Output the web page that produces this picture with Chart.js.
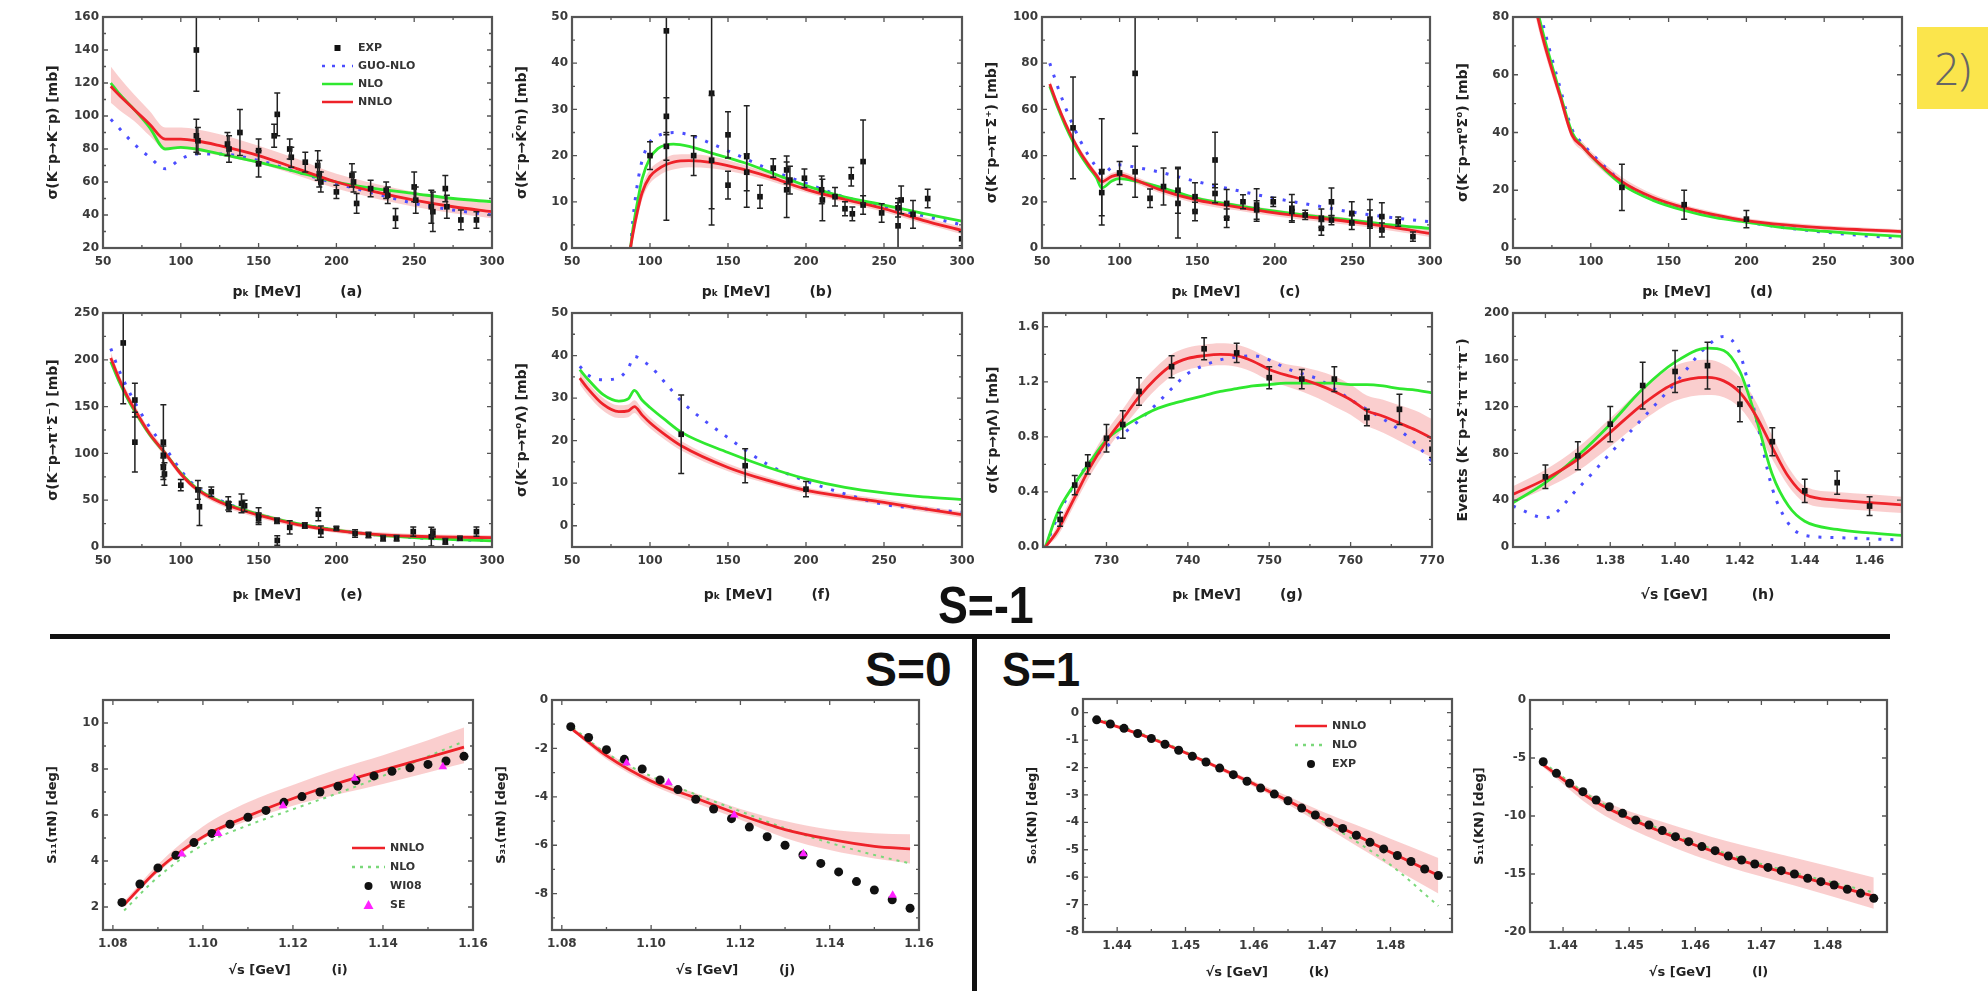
<!DOCTYPE html>
<html>
<head>
<meta charset="utf-8">
<script src="https://cdn.jsdelivr.net/npm/chart.js@4.4.1/dist/chart.umd.min.js"></script>
<style>
  body { margin: 0; background: #fff; width: 1988px; height: 991px; position: relative; overflow: hidden; }
  canvas { position: absolute; }
  .big { position: absolute; font-family: 'Liberation Sans', Arial, sans-serif; font-weight: bold; line-height: 1; color: #111; transform-origin: left top; white-space: nowrap; }
  .rule { position: absolute; background: #111; }
  #tag { position: absolute; left: 1917px; top: 27px; width: 71px; height: 82px; background: #fbe54c; color: #666; font-family: 'Open Sans', sans-serif; font-weight: 300; font-size: 44px; line-height: 82px; text-align: center; }
</style>
</head>
<body>

<div class="rule" style="left:50px; top:634px; width:1840px; height:5px;"></div>
<div class="rule" style="left:972px; top:636px; width:5px; height:355px;"></div>
<div class="big" style="left:938px; top:579px; font-size:52px; transform:scaleX(0.86);">S=-1</div>
<div class="big" style="left:865px; top:646px; font-size:48px;">S=0</div>
<div class="big" style="left:1002px; top:646px; font-size:48px; transform:scaleX(0.9);">S=1</div>
<div id="tag">2)</div>

<script>
'use strict';

// ---------- (a) K-p -> K-p ----------
const aCurveX = [55, 60, 70, 80, 90, 100, 110, 125, 150, 175, 200, 225, 250, 275, 300];
const aNNLO   = [118, 113, 104, 95, 86, 86, 85, 82, 76, 68, 60, 54, 49, 45, 42];
const aNLO    = [120, 114, 104, 93, 80, 81, 80, 77, 72, 66, 60, 56, 53, 50, 48];
const aGUO    = [98, 93, 83, 75, 68, 74, 77, 77, 73, 66, 59, 53, 47, 43, 40];
const aBandLo = [108, 104, 97, 88, 80, 80, 79, 76, 71, 64, 56, 50, 45, 41, 38];
const aBandHi = [130, 124, 113, 103, 93, 93, 92, 89, 82, 74, 65, 59, 54, 50, 47];
const aExpX   = [110, 110, 111, 130, 131, 138, 150, 150, 160, 162, 170, 171, 180, 188, 189, 190, 200, 210, 211, 213, 222, 232, 233, 238, 250, 251, 261, 262, 270, 271, 280, 290];
const aExpY   = [140, 88, 85, 83, 80, 90, 79, 71, 88, 101, 80, 75, 72, 70, 65, 60, 54, 64, 60, 47, 56, 55, 52, 38, 57, 49, 45, 42, 56, 45, 37, 37];
const aExpErr = [25, 10, 8, 7, 8, 14, 7, 8, 7, 13, 6, 6, 6, 9, 8, 6, 4, 7, 6, 6, 5, 5, 5, 6, 9, 8, 10, 12, 8, 7, 6, 5];

// ---------- (b) K-p -> K0bar n ----------
const bCurveX = [87.5, 89, 92, 95, 100, 105, 110, 115, 125, 140, 160, 180, 200, 225, 250, 275, 300];
const bNNLO   = [0, 3, 8, 12, 15.5, 17, 18, 18.6, 18.9, 18.5, 17, 15, 12.7, 10.5, 8.5, 6, 3.8];
const bNLO    = [0, 4, 10, 15, 19.5, 21.5, 22.3, 22.5, 22, 20.5, 18.5, 16, 13.5, 11, 9.3, 7.5, 5.8];
const bGUO    = [0, 6, 14, 19, 23, 24.3, 24.8, 25, 24.5, 22.5, 19.5, 16.5, 14, 11, 9, 7, 5];
const bBandLo = [0, 2, 6.5, 10.5, 14, 15.5, 16.5, 17, 17.5, 17.2, 16, 14.2, 12, 9.8, 7.8, 5.3, 3];
const bBandHi = [0, 4, 9.5, 13.5, 17, 18.5, 19.5, 20.2, 20.3, 19.8, 18, 15.8, 13.4, 11.2, 9.2, 6.7, 4.6];
const bExpX   = [100, 110.5, 110.5, 110.5, 128, 139.5, 139.5, 150, 150, 162, 162, 170.5, 179, 187.6, 187.6, 189.7, 199, 210, 210.5, 218.6, 225, 229.7, 229, 236.6, 236.6, 248.5, 259, 259, 261, 268.6, 278, 299.8];
const bExpY   = [20, 47, 28.5, 22, 20, 33.5, 19, 24.5, 13.6, 19.8, 16.4, 11.1, 17.3, 16.9, 12.6, 14.7, 15.1, 12.6, 10.4, 11.1, 8.5, 7.4, 15.4, 18.7, 9.3, 7.6, 8.7, 4.8, 10.4, 7.3, 10.7, 2];
const bExpErr = [3, 41, 4, 3, 4.3, 25, 14, 5, 3, 11, 4, 2.5, 2, 3, 6, 3, 2, 3, 4.5, 2, 1.5, 1.5, 2, 9, 2, 2, 2, 5, 3, 3, 2, 1.5];

// ---------- (c) K-p -> pi- Sigma+ ----------
const cCurveX = [55, 60, 65, 70, 75, 80, 85, 88.5, 95, 100, 110, 125, 150, 175, 200, 225, 250, 275, 300];
const cNNLO   = [71, 62, 54, 47, 41, 36, 31.5, 28.7, 31, 31.6, 29.5, 25.5, 20.7, 17.8, 15.2, 13.2, 11.3, 9, 6.3];
const cNLO    = [70, 61, 53, 46, 40, 35, 30.5, 26, 29, 30, 29, 26.6, 21.5, 18.5, 16, 13.8, 12, 10, 8.5];
const cGUO    = [80, 70, 61, 53, 46, 40, 35, 31.6, 35, 36, 35, 33, 28.7, 25, 21.5, 18.5, 15.5, 13.2, 11.4];
const cBandLo = [69.5, 60.5, 52.5, 45.5, 39.5, 34.5, 30, 27.2, 29.5, 30.1, 28, 24, 19.2, 16.3, 13.7, 11.7, 9.8, 7.5, 4.8];
const cBandHi = [72.5, 63.5, 55.5, 48.5, 42.5, 37.5, 33, 30.2, 32.5, 33.1, 31, 27, 22.2, 19.3, 16.7, 14.7, 12.8, 10.5, 7.8];
const cExpX   = [70, 88.5, 88.5, 100, 110, 110, 119.6, 128.3, 137.6, 137.6, 148.6, 148.6, 161.5, 161.5, 169, 169, 179.5, 188.3, 188.3, 199, 211, 211, 219.6, 230, 230, 236.5, 236.5, 249.6, 249.6, 261.3, 261.3, 269, 269, 279.5, 289];
const cExpY   = [52, 33, 24, 32.5, 75.6, 33, 21.5, 26.6, 25, 19.3, 22.2, 15.8, 38.1, 23.6, 19.3, 12.9, 20, 18.6, 16.5, 20, 17.2, 15.8, 14.3, 12.9, 8.5, 20, 12.1, 15, 11, 10, 12.5, 13.6, 7.8, 11.4, 4.9];
const cExpErr = [22, 23, 10, 5, 26, 11, 4, 8, 10, 15, 6, 4, 12, 4, 6, 4, 3, 7, 4, 2, 6, 4, 2, 4, 3, 6, 2, 5, 3, 11, 4, 6, 3, 2, 2];

// ---------- (d) K-p -> pi0 Sigma0 ----------
const dCurveX = [55, 60, 65, 70, 80, 88, 95, 100, 120, 140, 160, 180, 200, 225, 250, 275, 300];
const dNNLO   = [110, 95, 82, 71, 53, 39, 35, 32, 23, 17.5, 14, 11.5, 9.5, 8, 7, 6.3, 5.7];
const dNLO    = [112, 97, 84, 73, 54, 40, 35, 32, 22, 16.5, 13, 10.5, 9, 7, 5.8, 4.8, 4];
const dGUO    = [118, 102, 88, 76, 56, 41, 36, 33, 23, 17, 13.5, 11, 9, 7, 5.5, 4.3, 3.5];
const dBandLo = [106, 92, 79, 68.5, 51, 37.5, 33.5, 30.5, 21.5, 16.3, 13, 10.6, 8.7, 7.2, 6.2, 5.5, 4.9];
const dBandHi = [114, 98, 85, 73.5, 55, 40.5, 36.5, 33.5, 24.5, 18.7, 15, 12.4, 10.3, 8.8, 7.8, 7.1, 6.5];
const dExpX   = [120, 160, 200];
const dExpY   = [21, 15, 10];
const dExpErr = [8, 5, 3];

// ---------- (e) K-p -> pi+ Sigma- ----------
const eCurveX = [55, 60, 65, 70, 80, 90, 100, 110, 125, 150, 175, 200, 225, 250, 275, 300];
const eNNLO   = [202, 181, 163, 148, 121, 100, 78, 62, 48, 34, 24, 17.5, 13.5, 11.5, 10.5, 10];
const eNLO    = [198, 178, 161, 146, 120, 100, 79, 63, 49, 35, 25, 18, 13, 10, 8, 6.5];
const eGUO    = [212, 190, 172, 156, 128, 106, 82, 64, 50, 35, 25, 18, 13, 10, 8, 6.5];
const eBandLo = [196, 176, 158, 143, 117, 96, 75, 59, 45, 31, 21.5, 15, 11, 9, 8, 7.5];
const eBandHi = [208, 186, 168, 153, 125, 104, 81, 65, 51, 37, 26.5, 20, 16, 14, 13, 12.5];
const eExpX   = [63, 70.5, 70.5, 88.8, 88.8, 88.8, 89.5, 100, 111, 112, 119.6, 130.5, 131, 139, 141, 150, 150, 161.8, 162, 170, 179.7, 188.4, 190, 200, 212, 220.6, 230, 238.7, 249.4, 261, 262, 270, 279.4, 290];
const eExpY   = [218, 157, 112, 112, 98, 85, 78, 66, 61, 43, 59, 46.6, 43, 46.6, 44, 34, 30, 28, 7, 21, 23, 35, 16.4, 19.8, 14.5, 12.8, 9.3, 9.3, 16.4, 11, 15, 6, 9.3, 16.4];
const eExpErr = [65, 18, 32, 40, 10, 10, 12, 6, 10, 20, 5, 7, 5, 10, 6, 8, 6, 3, 5, 7, 3, 7, 6, 2, 4, 3, 3, 3, 5, 10, 4, 3, 2, 5];

// ---------- (f) K-p -> pi0 Lambda ----------
const fCurveX = [55, 60, 70, 80, 86, 90, 95, 100, 110, 120, 150, 175, 200, 225, 250, 275, 300];
const fNNLO   = [34.7, 32.3, 28.5, 26.8, 27, 28, 26, 24.2, 21.3, 18.8, 13.7, 10.7, 8.3, 6.8, 5.5, 4, 2.6];
const fNLO    = [36.7, 34.5, 30.8, 29.3, 29.8, 31.8, 29.5, 27.8, 24.8, 22, 17.2, 13.8, 11, 9, 7.7, 6.8, 6.2];
const fGUO    = [37.5, 35.5, 34.3, 34.8, 37, 39.8, 38.8, 37.5, 33.5, 29.3, 20.7, 14.5, 10.5, 7.5, 5, 4, 3.2];
const fBandLo = [33.2, 30.8, 27, 25.3, 25.5, 26.5, 24.6, 22.9, 20.1, 17.7, 12.8, 9.9, 7.6, 6.1, 4.8, 3.3, 1.9];
const fBandHi = [36.2, 33.8, 30, 28.3, 28.5, 29.5, 27.4, 25.5, 22.5, 19.9, 14.6, 11.5, 9, 7.5, 6.2, 4.7, 3.3];
const fExpX   = [120, 161, 200];
const fExpY   = [21.5, 14.1, 8.6];
const fExpErr = [9.2, 4, 1.8];

// ---------- (g) K-p -> eta Lambda ----------
const gCurveX = [722.5, 724, 726, 728, 730, 732, 734, 736, 738, 740, 742, 744, 746, 748, 750, 752, 754, 756, 758, 760, 762, 764, 766, 768, 770];
const gNNLO   = [0, 0.12, 0.35, 0.58, 0.77, 0.93, 1.09, 1.22, 1.32, 1.37, 1.39, 1.40, 1.39, 1.35, 1.29, 1.25, 1.22, 1.18, 1.13, 1.07, 0.99, 0.95, 0.9, 0.85, 0.79];
const gNLO    = [0, 0.25, 0.45, 0.62, 0.78, 0.87, 0.94, 1.0, 1.04, 1.07, 1.10, 1.13, 1.15, 1.17, 1.18, 1.19, 1.19, 1.19, 1.19, 1.18, 1.18, 1.17, 1.15, 1.14, 1.12];
const gGUO    = [0, 0.22, 0.45, 0.62, 0.73, 0.82, 0.92, 1.03, 1.15, 1.26, 1.32, 1.36, 1.38, 1.39, 1.36, 1.30, 1.26, 1.22, 1.15, 1.07, 1.0, 0.93, 0.85, 0.75, 0.62];
const gBandLo = [0, 0.08, 0.3, 0.52, 0.7, 0.86, 1.01, 1.14, 1.24, 1.29, 1.31, 1.32, 1.31, 1.27, 1.21, 1.17, 1.13, 1.08, 1.02, 0.96, 0.88, 0.83, 0.77, 0.71, 0.65];
const gBandHi = [0, 0.16, 0.4, 0.64, 0.84, 1.0, 1.17, 1.3, 1.4, 1.45, 1.47, 1.48, 1.47, 1.43, 1.37, 1.33, 1.31, 1.28, 1.24, 1.18, 1.1, 1.07, 1.03, 0.99, 0.93];
const gExpX   = [724.3, 726.1, 727.7, 730, 732, 734, 738, 742, 746, 750, 754, 758, 762, 766, 770];
const gExpY   = [0.2, 0.45, 0.6, 0.79, 0.89, 1.13, 1.31, 1.44, 1.41, 1.23, 1.22, 1.22, 0.94, 1.0, 0.71];
const gExpErr = [0.05, 0.07, 0.07, 0.1, 0.1, 0.1, 0.08, 0.08, 0.07, 0.08, 0.07, 0.09, 0.06, 0.11, 0.06];

// ---------- (h) events K-p -> Sigma+ pi- pi+ pi- ----------
const hCurveX = [1.35, 1.36, 1.37, 1.38, 1.39, 1.40, 1.41, 1.415, 1.42, 1.425, 1.43, 1.435, 1.44, 1.45, 1.46, 1.47];
const hNNLO   = [45, 58, 75, 98, 122, 140, 145, 142, 132, 112, 85, 60, 45, 40, 38, 36];
const hNLO    = [38, 55, 78, 105, 135, 158, 170, 168, 150, 110, 62, 35, 22, 15, 12, 10];
const hGUO    = [35, 25, 50, 80, 110, 140, 172, 180, 165, 110, 50, 20, 10, 8, 7, 6];
const hBandLo = [38, 50, 65, 86, 108, 125, 130, 128, 119, 100, 75, 52, 38, 33, 31, 29];
const hBandHi = [52, 66, 85, 110, 136, 155, 160, 156, 145, 124, 95, 68, 52, 47, 45, 43];
const hExpX   = [1.36, 1.37, 1.38, 1.39, 1.40, 1.41, 1.42, 1.43, 1.44, 1.45, 1.46];
const hExpY   = [60, 78, 105, 138, 150, 155, 122, 90, 48, 55, 35];
const hExpErr = [10, 12, 15, 20, 18, 20, 15, 12, 10, 10, 8];

// ---------- (i), (j) pi N phase shifts ----------
const piNX    = [1.082, 1.086, 1.090, 1.094, 1.098, 1.102, 1.106, 1.110, 1.114, 1.118, 1.122, 1.126, 1.130, 1.134, 1.138, 1.142, 1.146, 1.150, 1.154, 1.158];
const iCurveX = [1.0825, 1.09, 1.10, 1.11, 1.12, 1.13, 1.14, 1.15, 1.158];
const iNNLO   = [2.1, 3.62, 5.05, 5.95, 6.72, 7.38, 7.95, 8.5, 8.95];
const iNLO    = [1.85, 3.3, 4.7, 5.55, 6.25, 6.95, 7.7, 8.55, 9.2];
const iBandLo = [2.0, 3.5, 4.95, 5.75, 6.4, 6.9, 7.35, 7.85, 8.25];
const iBandHi = [2.25, 3.85, 5.5, 6.55, 7.3, 8.0, 8.6, 9.25, 9.8];
const iW08    = [2.2, 3.0, 3.7, 4.25, 4.8, 5.2, 5.6, 5.9, 6.2, 6.55, 6.8, 7.0, 7.25, 7.5, 7.7, 7.9, 8.05, 8.2, 8.35, 8.55];
const iSEX    = [1.0953, 1.1034, 1.1178, 1.1337, 1.1533];
const iSE     = [4.3, 5.2, 6.4, 7.6, 8.1];

const jCurveX = [1.0825, 1.09, 1.10, 1.11, 1.12, 1.13, 1.14, 1.15, 1.158];
const jNNLO   = [-1.23, -2.3, -3.35, -4.05, -4.75, -5.35, -5.75, -6.05, -6.15];
const jNLO    = [-1.15, -2.2, -3.15, -3.9, -4.6, -5.3, -5.9, -6.4, -6.75];
const jBandLo = [-1.3, -2.45, -3.5, -4.25, -4.95, -5.7, -6.2, -6.55, -6.75];
const jBandHi = [-1.15, -2.15, -3.2, -3.85, -4.5, -5.0, -5.35, -5.5, -5.55];
const jW08    = [-1.1, -1.55, -2.05, -2.45, -2.85, -3.3, -3.7, -4.1, -4.5, -4.9, -5.25, -5.65, -6.0, -6.4, -6.75, -7.1, -7.5, -7.85, -8.25, -8.6];
const jSEX    = [1.0945, 1.1039, 1.1186, 1.1341, 1.1541];
const jSE     = [-2.6, -3.42, -4.75, -6.35, -8.06];

// ---------- (k), (l) K N phase shifts ----------
const knX     = [1.437, 1.439, 1.441, 1.443, 1.445, 1.447, 1.449, 1.451, 1.453, 1.455, 1.457, 1.459, 1.461, 1.463, 1.465, 1.467, 1.469, 1.471, 1.473, 1.475, 1.477, 1.479, 1.481, 1.483, 1.485, 1.487];
const kCurveX = [1.437, 1.445, 1.455, 1.465, 1.47, 1.475, 1.48, 1.487];
const kNNLO   = [-0.26, -0.94, -2.02, -3.21, -3.86, -4.47, -5.09, -5.94];
const kNLO    = [-0.2, -0.9, -2.0, -3.21, -3.95, -4.7, -5.55, -7.05];
const kBandLo = [-0.3, -1.0, -2.1, -3.35, -4.1, -4.85, -5.6, -6.6];
const kBandHi = [-0.22, -0.88, -1.95, -3.05, -3.6, -4.1, -4.6, -5.3];
const kExp    = [-0.26, -0.41, -0.57, -0.76, -0.94, -1.15, -1.37, -1.59, -1.80, -2.02, -2.26, -2.50, -2.75, -2.97, -3.21, -3.48, -3.73, -4.00, -4.22, -4.47, -4.73, -4.97, -5.21, -5.43, -5.70, -5.94];

const lCurveX = [1.437, 1.445, 1.455, 1.465, 1.475, 1.487];
const lNNLO   = [-5.6, -8.8, -11.4, -13.5, -15.1, -16.9];
const lNLO    = [-5.4, -8.6, -11.2, -13.3, -14.9, -16.6];
const lBandLo = [-5.8, -9.5, -12.3, -14.4, -16.0, -18.0];
const lBandHi = [-5.4, -8.4, -10.5, -12.2, -13.6, -15.3];
const lExp    = [-5.32, -6.32, -7.18, -7.9, -8.62, -9.2, -9.77, -10.35, -10.78, -11.26, -11.78, -12.21, -12.64, -12.99, -13.45, -13.79, -14.14, -14.43, -14.71, -15.0, -15.37, -15.66, -15.95, -16.32, -16.67, -17.1];

// tick labels
const pkTicks   = [50, 100, 150, 200, 250, 300];
const gTicksX   = [730, 740, 750, 760, 770];
const hTicksX   = [1.36, 1.38, 1.40, 1.42, 1.44, 1.46];
const piNTicksX = [1.08, 1.10, 1.12, 1.14, 1.16];
const knTicksX  = [1.44, 1.45, 1.46, 1.47, 1.48];

// colours
const RED = '#ee2229';
const GREEN = '#2fe82f';
const BLUE = '#4b4dff';
const BAND = 'rgba(240, 110, 110, 0.34)';
const DOTS = [3, 9];

Chart.defaults.font.family = 'DejaVu Sans';

const Y_W = 62;
const PAD_TOP = 12;
const PAD_RIGHT = 22;

function pts(xs, ys) {
  return xs.map((x, i) => ({ x: x, y: ys[i] }));
}

function curve(xs, ys, color, dash, width) {
  return {
    data: pts(xs, ys), borderColor: color, borderWidth: width || 2.8, borderDash: dash || [],
    pointRadius: 0, fill: false, cubicInterpolationMode: 'monotone'
  };
}

function band(xs, lo, hi) {
  return [
    { data: pts(xs, lo), borderWidth: 0, borderColor: 'rgba(0,0,0,0)', pointRadius: 0, fill: false, cubicInterpolationMode: 'monotone' },
    { data: pts(xs, hi), borderWidth: 0, borderColor: 'rgba(0,0,0,0)', pointRadius: 0, fill: '-1', backgroundColor: BAND, cubicInterpolationMode: 'monotone' }
  ];
}

function marks(xs, ys, errs, style, color, r) {
  return {
    data: pts(xs, ys), yErr: errs, showLine: false, pointStyle: style, pointRadius: r,
    backgroundColor: color, borderColor: color, pointBorderWidth: 0
  };
}

// error bars drawn through the scales
const errorBars = {
  id: 'errorBars',
  afterDatasetsDraw(chart) {
    const { ctx, chartArea: a, scales: { x, y } } = chart;
    ctx.save();
    ctx.beginPath();
    ctx.rect(a.left, a.top, a.right - a.left, a.bottom - a.top);
    ctx.clip();
    ctx.strokeStyle = '#222';
    ctx.lineWidth = 1.5;
    chart.data.datasets.forEach(ds => {
      if (!ds.yErr) return;
      ds.data.forEach((p, i) => {
        const e = ds.yErr[i];
        if (!e) return;
        const px = x.getPixelForValue(p.x);
        const y1 = y.getPixelForValue(p.y - e);
        const y2 = y.getPixelForValue(p.y + e);
        ctx.beginPath();
        ctx.moveTo(px, y1); ctx.lineTo(px, y2);
        ctx.moveTo(px - 3, y1); ctx.lineTo(px + 3, y1);
        ctx.moveTo(px - 3, y2); ctx.lineTo(px + 3, y2);
        ctx.stroke();
      });
    });
    ctx.restore();
  }
};

function tickList(scale) {
  const major = scale.ticks.map(t => t.value);
  const half = (major[1] - major[0]) / 2;
  const out = [];
  let v = major[0];
  while (v - half >= scale.min - 1e-9) v -= half;
  for (; v <= scale.max + 1e-9; v += half) {
    const big = major.some(m => Math.abs(m - v) < half / 10);
    out.push([v, big]);
  }
  return out;
}

// box round the plot with inward ticks on all four sides
const frameTicks = {
  id: 'frameTicks',
  afterDraw(chart) {
    const { ctx, chartArea: a, scales: { x, y } } = chart;
    ctx.save();
    ctx.strokeStyle = '#555';
    ctx.lineWidth = 1.3;
    ctx.beginPath();
    tickList(x).forEach(([v, big]) => {
      const p = x.getPixelForValue(v);
      const len = big ? 5 : 3;
      ctx.moveTo(p, a.bottom); ctx.lineTo(p, a.bottom - len);
      ctx.moveTo(p, a.top); ctx.lineTo(p, a.top + len);
    });
    tickList(y).forEach(([v, big]) => {
      const p = y.getPixelForValue(v);
      const len = big ? 5 : 3;
      ctx.moveTo(a.left, p); ctx.lineTo(a.left + len, p);
      ctx.moveTo(a.right, p); ctx.lineTo(a.right - len, p);
    });
    ctx.stroke();
    ctx.lineWidth = 2.2;
    ctx.strokeRect(a.left, a.top, a.right - a.left, a.bottom - a.top);
    ctx.restore();
  }
};

// small legend placed inside the plot
const innerLegend = {
  id: 'innerLegend',
  afterDraw(chart, args, opts) {
    if (!opts.items || !opts.items.length) return;
    const { ctx, chartArea: a } = chart;
    ctx.save();
    ctx.font = 'bold 11px "DejaVu Sans"';
    ctx.textBaseline = 'middle';
    opts.items.forEach((it, i) => {
      const y0 = a.top + opts.top + i * opts.rowH;
      const x0 = a.left + opts.left;
      const mid = x0 + opts.sampleW / 2;
      if (it.marker) {
        ctx.fillStyle = it.color;
        ctx.beginPath();
        if (it.marker === 'rect') ctx.rect(mid - 3, y0 - 3, 6, 6);
        else if (it.marker === 'circle') ctx.arc(mid, y0, 4, 0, Math.PI * 2);
        else { ctx.moveTo(mid, y0 - 5); ctx.lineTo(mid + 5, y0 + 4); ctx.lineTo(mid - 5, y0 + 4); ctx.closePath(); }
        ctx.fill();
      } else {
        ctx.strokeStyle = it.color;
        ctx.lineWidth = 2.5;
        ctx.setLineDash(it.dash || []);
        ctx.beginPath();
        ctx.moveTo(x0, y0); ctx.lineTo(x0 + opts.sampleW, y0);
        ctx.stroke();
        ctx.setLineDash([]);
      }
      ctx.fillStyle = '#333';
      ctx.fillText(it.label, x0 + opts.sampleW + 5, y0);
    });
    ctx.restore();
  }
};

function makePanel(p) {
  const [L, T, R, B] = p.rect;
  const canvas = document.createElement('canvas');
  canvas.width = (R - L) + Y_W + PAD_RIGHT;
  canvas.height = (B - T) + PAD_TOP + p.xAxisH;
  canvas.style.left = (L - Y_W) + 'px';
  canvas.style.top = (T - PAD_TOP) + 'px';
  document.body.appendChild(canvas);

  const tickFont = { family: 'DejaVu Sans', size: 12, weight: 'bold' };
  const titleFont = { family: 'DejaVu Sans', size: p.titleSize || 14, weight: 'bold' };

  new Chart(canvas.getContext('2d'), {
    type: 'line',
    data: { datasets: p.datasets },
    options: {
      responsive: false,
      animation: false,
      devicePixelRatio: 1,
      layout: { padding: { left: 0, top: PAD_TOP, right: PAD_RIGHT, bottom: 0 } },
      plugins: {
        legend: { display: false },
        tooltip: { enabled: false },
        innerLegend: p.legend || { items: [] }
      },
      scales: {
        x: {
          type: 'linear', min: p.xMin, max: p.xMax,
          grid: { display: false, drawTicks: false }, border: { display: false },
          afterBuildTicks: s => { s.ticks = p.xTicks.map(v => ({ value: v })); },
          afterFit: s => { s.height = p.xAxisH; s.paddingLeft = 0; s.paddingRight = 0; },
          ticks: { font: tickFont, color: '#3a3a3a', padding: 7, maxRotation: 0, autoSkip: false,
                   callback: v => p.xFmt ? p.xFmt(v) : String(v) },
          title: { display: true, text: p.xTitle, font: titleFont, color: '#222', padding: { top: 4, bottom: 4 } }
        },
        y: {
          type: 'linear', min: p.yMin, max: p.yMax,
          grid: { display: false, drawTicks: false }, border: { display: false },
          afterBuildTicks: s => { s.ticks = p.yTicks.map(v => ({ value: v })); },
          afterFit: s => { s.width = Y_W; s.paddingTop = 0; s.paddingBottom = 0; },
          ticks: { font: tickFont, color: '#3a3a3a', padding: 4, autoSkip: false,
                   callback: v => p.yFmt ? p.yFmt(v) : String(v) },
          title: { display: true, text: p.yTitle, font: titleFont, color: '#222', padding: { top: 4, bottom: 4 } }
        }
      }
    },
    plugins: [errorBars, frameTicks, innerLegend]
  });
}

function theory(xs, nnlo, nlo, guo, lo, hi) {
  const list = [curve(xs, nnlo, RED), curve(xs, nlo, GREEN)];
  if (guo) list.push(curve(xs, guo, BLUE, DOTS, 3));
  return list.concat(band(xs, lo, hi));
}

const fix2 = v => v.toFixed(2);

// row 1
makePanel({
  rect: [103, 17, 492, 248], xAxisH: 57,
  xMin: 50, xMax: 300, xTicks: pkTicks, yMin: 20, yMax: 160, yTicks: [20, 40, 60, 80, 100, 120, 140, 160],
  xTitle: 'pₖ [MeV]        (a)', yTitle: 'σ(K⁻p→K⁻p) [mb]',
  datasets: [marks(aExpX, aExpY, aExpErr, 'rect', '#111', 4)].concat(theory(aCurveX, aNNLO, aNLO, aGUO, aBandLo, aBandHi)),
  legend: { left: 219, top: 31, rowH: 18, sampleW: 31, items: [
    { label: 'EXP', marker: 'rect', color: '#111' },
    { label: 'GUO-NLO', color: BLUE, dash: [3, 7] },
    { label: 'NLO', color: GREEN },
    { label: 'NNLO', color: RED }
  ] }
});
makePanel({
  rect: [572, 17, 962, 248], xAxisH: 57,
  xMin: 50, xMax: 300, xTicks: pkTicks, yMin: 0, yMax: 50, yTicks: [0, 10, 20, 30, 40, 50],
  xTitle: 'pₖ [MeV]        (b)', yTitle: 'σ(K⁻p→K̄⁰n) [mb]',
  datasets: [marks(bExpX, bExpY, bExpErr, 'rect', '#111', 4)].concat(theory(bCurveX, bNNLO, bNLO, bGUO, bBandLo, bBandHi))
});
makePanel({
  rect: [1042, 17, 1430, 248], xAxisH: 57,
  xMin: 50, xMax: 300, xTicks: pkTicks, yMin: 0, yMax: 100, yTicks: [0, 20, 40, 60, 80, 100],
  xTitle: 'pₖ [MeV]        (c)', yTitle: 'σ(K⁻p→π⁻Σ⁺) [mb]',
  datasets: [marks(cExpX, cExpY, cExpErr, 'rect', '#111', 4)].concat(theory(cCurveX, cNNLO, cNLO, cGUO, cBandLo, cBandHi))
});
makePanel({
  rect: [1513, 17, 1902, 248], xAxisH: 57,
  xMin: 50, xMax: 300, xTicks: pkTicks, yMin: 0, yMax: 80, yTicks: [0, 20, 40, 60, 80],
  xTitle: 'pₖ [MeV]        (d)', yTitle: 'σ(K⁻p→π⁰Σ⁰) [mb]',
  datasets: [marks(dExpX, dExpY, dExpErr, 'rect', '#111', 4)].concat(theory(dCurveX, dNNLO, dNLO, dGUO, dBandLo, dBandHi))
});

// row 2
makePanel({
  rect: [103, 313, 492, 547], xAxisH: 61,
  xMin: 50, xMax: 300, xTicks: pkTicks, yMin: 0, yMax: 250, yTicks: [0, 50, 100, 150, 200, 250],
  xTitle: 'pₖ [MeV]        (e)', yTitle: 'σ(K⁻p→π⁺Σ⁻) [mb]',
  datasets: [marks(eExpX, eExpY, eExpErr, 'rect', '#111', 4)].concat(theory(eCurveX, eNNLO, eNLO, eGUO, eBandLo, eBandHi))
});
makePanel({
  rect: [572, 313, 962, 547], xAxisH: 61,
  xMin: 50, xMax: 300, xTicks: pkTicks, yMin: -5, yMax: 50, yTicks: [0, 10, 20, 30, 40, 50],
  xTitle: 'pₖ [MeV]        (f)', yTitle: 'σ(K⁻p→π⁰Λ) [mb]',
  datasets: [marks(fExpX, fExpY, fExpErr, 'rect', '#111', 4)].concat(theory(fCurveX, fNNLO, fNLO, fGUO, fBandLo, fBandHi))
});
makePanel({
  rect: [1043, 313, 1432, 547], xAxisH: 61,
  xMin: 722.2, xMax: 770, xTicks: gTicksX, yMin: 0, yMax: 1.7, yTicks: [0, 0.4, 0.8, 1.2, 1.6],
  yFmt: v => v.toFixed(1),
  xTitle: 'pₖ [MeV]        (g)', yTitle: 'σ(K⁻p→ηΛ) [mb]',
  datasets: [marks(gExpX, gExpY, gExpErr, 'rect', '#111', 4)].concat(theory(gCurveX, gNNLO, gNLO, gGUO, gBandLo, gBandHi))
});
makePanel({
  rect: [1513, 313, 1902, 547], xAxisH: 61,
  xMin: 1.35, xMax: 1.47, xTicks: hTicksX, yMin: 0, yMax: 200, yTicks: [0, 40, 80, 120, 160, 200],
  xFmt: fix2,
  xTitle: '√s [GeV]         (h)', yTitle: 'Events (K⁻p→Σ⁺π⁻π⁺π⁻)',
  datasets: [marks(hExpX, hExpY, hExpErr, 'rect', '#111', 4)].concat(theory(hCurveX, hNNLO, hNLO, hGUO, hBandLo, hBandHi))
});

// row 3
const NLO_DASH = [3, 5];
makePanel({
  rect: [103, 700, 473, 930], xAxisH: 52, titleSize: 13,
  xMin: 1.0778, xMax: 1.16, xTicks: piNTicksX, yMin: 1, yMax: 11, yTicks: [2, 4, 6, 8, 10],
  xFmt: fix2,
  xTitle: '√s [GeV]         (i)', yTitle: 'S₁₁(πN) [deg]',
  datasets: [
    marks(iSEX, iSE, null, 'triangle', '#ff22ff', 5),
    marks(piNX, iW08, null, 'circle', '#111', 4.5),
    curve(iCurveX, iNNLO, RED),
    curve(iCurveX, iNLO, '#7ad87a', NLO_DASH, 2)
  ].concat(band(iCurveX, iBandLo, iBandHi)),
  legend: { left: 249, top: 148, rowH: 19, sampleW: 33, items: [
    { label: 'NNLO', color: RED },
    { label: 'NLO', color: '#7ad87a', dash: NLO_DASH },
    { label: 'WI08', marker: 'circle', color: '#111' },
    { label: 'SE', marker: 'triangle', color: '#ff22ff' }
  ] }
});
makePanel({
  rect: [552, 700, 919, 930], xAxisH: 52, titleSize: 13,
  xMin: 1.0778, xMax: 1.16, xTicks: piNTicksX, yMin: -9.5, yMax: 0, yTicks: [-8, -6, -4, -2, 0],
  xFmt: fix2,
  xTitle: '√s [GeV]         (j)', yTitle: 'S₃₁(πN) [deg]',
  datasets: [
    marks(jSEX, jSE, null, 'triangle', '#ff22ff', 5),
    marks(piNX, jW08, null, 'circle', '#111', 4.5),
    curve(jCurveX, jNNLO, RED),
    curve(jCurveX, jNLO, '#7ad87a', NLO_DASH, 2)
  ].concat(band(jCurveX, jBandLo, jBandHi))
});
makePanel({
  rect: [1083, 699, 1452, 932], xAxisH: 52, titleSize: 13,
  xMin: 1.435, xMax: 1.489, xTicks: knTicksX, yMin: -8, yMax: 0.5, yTicks: [-8, -7, -6, -5, -4, -3, -2, -1, 0],
  xFmt: fix2,
  xTitle: '√s [GeV]         (k)', yTitle: 'S₀₁(KN) [deg]',
  datasets: [
    marks(knX, kExp, null, 'circle', '#111', 4.5),
    curve(kCurveX, kNNLO, RED),
    curve(kCurveX, kNLO, '#7ad87a', NLO_DASH, 2)
  ].concat(band(kCurveX, kBandLo, kBandHi)),
  legend: { left: 212, top: 27, rowH: 19, sampleW: 32, items: [
    { label: 'NNLO', color: RED },
    { label: 'NLO', color: '#7ad87a', dash: NLO_DASH },
    { label: 'EXP', marker: 'circle', color: '#111' }
  ] }
});
makePanel({
  rect: [1530, 700, 1887, 932], xAxisH: 52, titleSize: 13,
  xMin: 1.435, xMax: 1.489, xTicks: knTicksX, yMin: -20, yMax: 0, yTicks: [-20, -15, -10, -5, 0],
  xFmt: fix2,
  xTitle: '√s [GeV]         (l)', yTitle: 'S₁₁(KN) [deg]',
  datasets: [
    marks(knX, lExp, null, 'circle', '#111', 4.5),
    curve(lCurveX, lNNLO, RED),
    curve(lCurveX, lNLO, '#7ad87a', NLO_DASH, 2)
  ].concat(band(lCurveX, lBandLo, lBandHi))
});
</script>
</body>
</html>
